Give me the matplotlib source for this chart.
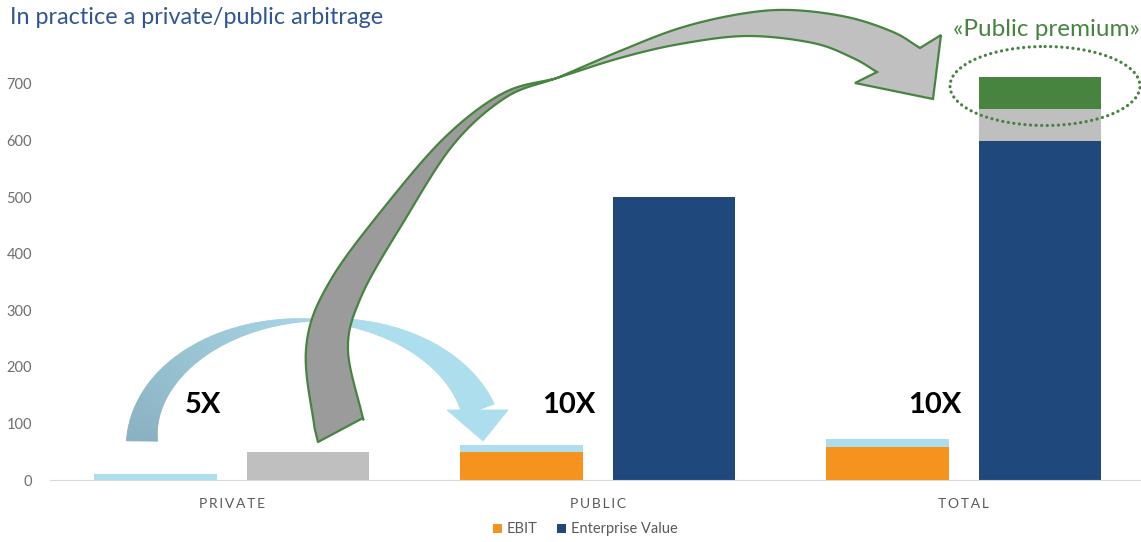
import numpy as np
import matplotlib.pyplot as plt
from matplotlib.patches import Polygon, Ellipse
from matplotlib.collections import PolyCollection

plt.rcParams['font.family'] = ['Lato', 'DejaVu Sans']

# chart values
categories = ['PRIVATE', 'PUBLIC', 'TOTAL']
ebit = [0, 50, 58]
ebit_extra = [10, 12, 14]
enterprise_value = [0, 500, 600]
multiple_gap = [50, 0, 55]
public_premium = [0, 0, 58]
multiples = ['5X', '10X', '10X']
y_ticks = [0, 100, 200, 300, 400, 500, 600, 700]

W, H = 1141, 542
GREEN = '#46843F'
fig = plt.figure(figsize=(W / 100, H / 100), dpi=100)


def px_box(left, top, right, bottom):
    return [left / W, 1 - bottom / H, (right - left) / W, (bottom - top) / H]


ax = fig.add_axes(px_box(50, 27.4, 1141, 480))
x = np.arange(len(categories))
bw = 0.335
off = 0.208

ax.bar(x - off, ebit, bw, color='#F6921E', lw=0, label='EBIT')
ax.bar(x - off, ebit_extra, bw, bottom=ebit, color='#ADDEEE', lw=0)
ax.bar(x + off, enterprise_value, bw, color='#1F497D', lw=0, label='Enterprise Value')
ax.bar(x + off, multiple_gap, bw, bottom=enterprise_value, color='#BFBFBF', lw=0)
ax.bar(x + off, public_premium, bw, bottom=np.add(enterprise_value, multiple_gap),
       color=GREEN, lw=0)

ax.set_xlim(-0.497, 2.484)
ax.set_ylim(0, 800)
ax.set_yticks(y_ticks)
ax.set_xticks(x)
ax.set_xticklabels(['\u2009'.join(c) for c in categories], fontsize=10, color='#595959')
ax.tick_params(axis='y', length=0, pad=13, labelsize=10.5, labelcolor='#6E6E6E')
ax.tick_params(axis='x', length=0, pad=13)
for s in ['top', 'right', 'left']:
    ax.spines[s].set_visible(False)
ax.spines['bottom'].set_color('#D9D9D9')

for i, m in enumerate(multiples):
    ax.text(x[i] - 0.08, 132, m, fontsize=21, fontweight='bold', ha='center', va='center')

h, l = ax.get_legend_handles_labels()
fig.legend(h, l, loc='lower center', bbox_to_anchor=(585 / W, -0.014), ncol=2, frameon=False,
           fontsize=10.5, handlelength=0.62, handleheight=0.62, handletextpad=0.35,
           columnspacing=1.3, labelcolor='#595959')

fig.text(10 / W, 1 - 17 / H, 'In practice a private/public arbitrage', color='#2F5597',
         fontsize=16.8, va='center')

# overlay in pixel coordinates for the arrows
ov = fig.add_axes([0, 0, 1, 1])
ov.set_xlim(0, W)
ov.set_ylim(H, 0)
ov.axis('off')
ov.patch.set_alpha(0)


def smooth(pts, n=14):
    # catmull-rom through the knots
    pts = np.asarray(pts, float)
    p = np.vstack([2 * pts[0] - pts[1], pts, 2 * pts[-1] - pts[-2]])
    out = []
    for i in range(1, len(p) - 2):
        p0, p1, p2, p3 = p[i - 1], p[i], p[i + 1], p[i + 2]
        for t in np.linspace(0, 1, n, endpoint=False):
            out.append(0.5 * (2 * p1 + (-p0 + p2) * t + (2 * p0 - 5 * p1 + 4 * p2 - p3) * t ** 2
                              + (-p0 + 3 * p1 - 3 * p2 + p3) * t ** 3))
    out.append(pts[-1])
    return np.array(out)


def offset(c, w):
    tx, ty = np.gradient(c[:, 0]), np.gradient(c[:, 1])
    nrm = np.hypot(tx, ty)
    nv = np.column_stack([-ty / nrm, tx / nrm])
    return c + nv * w[:, None] / 2, c - nv * w[:, None] / 2


# light blue curved arrow (gradient)
th = np.radians(np.linspace(180, 14.8, 200))
cen = np.column_stack([313 + 171 * np.cos(th), 441 - 121 * np.sin(th)])
deg = np.degrees(th)
wid = np.where(deg > 90, 2 + 29 * (deg - 90) / 90, 2 + 32 * (90 - deg) / (90 - 14.8))
a, b = offset(cen, wid)
c0 = np.array([0x8A, 0xB1, 0xC1]) / 255
c1 = np.array([0xAD, 0xDE, 0xEE]) / 255
quads, cols = [], []
for i in range(len(cen) - 1):
    quads.append([a[i], a[i + 1], b[i + 1], b[i]])
    f = np.clip((180 - deg[i]) / 110, 0, 1)
    cols.append(c0 * (1 - f) + c1 * f)
ov.add_collection(PolyCollection(quads, facecolors=cols, edgecolors=cols, lw=0.6))
ov.add_patch(Polygon([(447, 410), (508, 410), (483, 441)], closed=True, fc=c1, ec=c1, lw=0.6))

# big grey twisted arrow, lower (dark) half: centre line + width
dark = [(340, 430, 50), (327, 350, 42), (345, 290, 35), (395, 213, 24), (450, 140, 11),
        (505, 95, 5), (557, 78, 0)]
s = smooth(dark)
a, b = offset(s[:, :2], s[:, 2])
if a[0, 0] > b[0, 0]:
    a, b = b, a
a[0] = (318, 442)
b[0] = (363, 418)
ov.add_patch(Polygon(np.vstack([a, b[::-1]]), closed=True, fc='#9B9B9B', ec=GREEN, lw=1.6,
                     joinstyle='round'))

# upper (light) half with the head
light_top = [(557, 78), (620, 51), (680, 28), (740, 14), (790, 10), (847, 17), (893, 32), (920, 48)]
light_bot = [(557, 78), (620, 58), (680, 44), (747, 36), (813, 43), (853, 58), (877, 72)]
head = [(941, 35), (933, 99), (855, 83)]
ov.add_patch(Polygon(np.vstack([smooth(light_top), head, smooth(light_bot)[::-1]]), closed=True,
                     fc='#C0C0C0', ec=GREEN, lw=1.6, joinstyle='miter'))

# public premium highlight
ov.add_patch(Ellipse((1045, 86), 190, 79, fill=False, ec=GREEN, lw=2.3,
                     linestyle=(0, (0.05, 1.7)), capstyle='round'))
ov.text(1046, 30, '\u00abPublic premium\u00bb', color=GREEN, fontsize=17.5, ha='center',
        va='center')

fig.savefig('out.png', dpi=100)
